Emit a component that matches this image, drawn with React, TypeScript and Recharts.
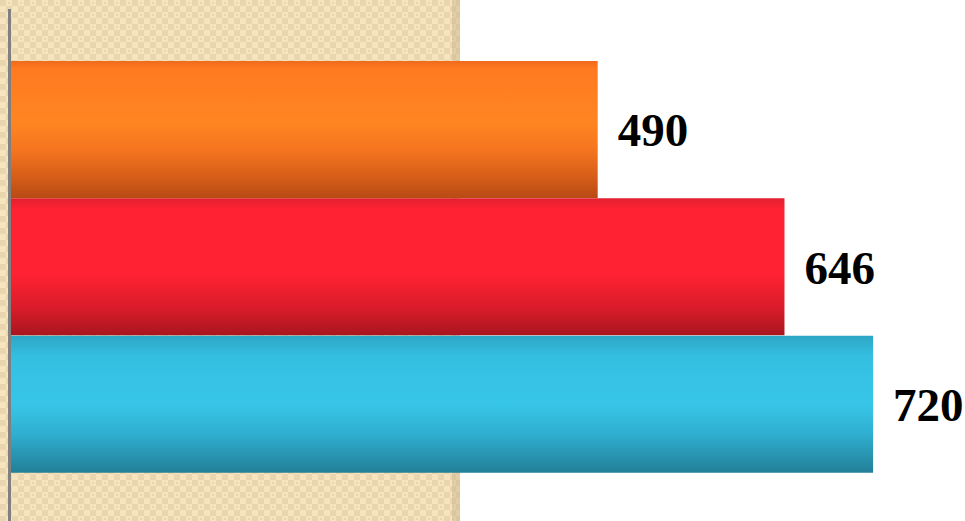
import React from 'react';
import { BarChart, Bar, XAxis, YAxis, Cell, LabelList } from 'recharts';

const categories = ['A', 'B', 'C'];
const values = [490, 646, 720];
const gradientIds = ['gOrange', 'gRed', 'gCyan'];

const data = categories.map((name, i) => ({ name, value: values[i] }));

const W = 965;
const H = 521;

export default function App() {
    return (
        <div style={{ position: 'fixed', left: 0, top: 0, width: W, height: H, background: '#fff' }}>
            {/* patterned backdrop + axis line */}
            <svg width={W} height={H} style={{ position: 'absolute', left: 0, top: 0 }}>
                <defs>
                    <pattern id="beige" width="12" height="12" patternUnits="userSpaceOnUse">
                        <rect width="12" height="12" fill="#F6E4BE" />
                        <rect x="0" y="0" width="6" height="6" fill="#E9D6AF" />
                        <rect x="6" y="6" width="6" height="6" fill="#E9D6AF" />
                        <rect x="8" y="2" width="2" height="2" fill="#E9D6AF" />
                        <rect x="2" y="8" width="2" height="2" fill="#F6E4BE" />
                    </pattern>
                </defs>
                <rect x={0} y={0} width={460} height={H} fill="url(#beige)" />
                <rect x={452} y={0} width={8} height={H} fill="#C8B48C" opacity={0.45} />
                <rect x={8} y={9} width={3} height={H - 9} fill="#808080" />
            </svg>
            <div style={{ position: 'absolute', left: 0, top: 0 }}>
                <BarChart
                    width={W}
                    height={H}
                    data={data}
                    layout="vertical"
                    margin={{ top: 61, right: 56, bottom: 48, left: 11 }}
                    barCategoryGap={0}
                >
                    <defs>
                        <linearGradient id="gOrange" x1="0" y1="0" x2="0" y2="1">
                            <stop offset="0" stopColor="#F06A1C" />
                            <stop offset="0.06" stopColor="#FF7A20" />
                            <stop offset="0.45" stopColor="#FF8522" />
                            <stop offset="0.65" stopColor="#F5751F" />
                            <stop offset="0.82" stopColor="#DA611A" />
                            <stop offset="1" stopColor="#B84A14" />
                        </linearGradient>
                        <linearGradient id="gRed" x1="0" y1="0" x2="0" y2="1">
                            <stop offset="0" stopColor="#E2202E" />
                            <stop offset="0.08" stopColor="#FF2233" />
                            <stop offset="0.55" stopColor="#FF2233" />
                            <stop offset="0.8" stopColor="#DA1C2A" />
                            <stop offset="1" stopColor="#A8161F" />
                        </linearGradient>
                        <linearGradient id="gCyan" x1="0" y1="0" x2="0" y2="1">
                            <stop offset="0" stopColor="#2DA6C4" />
                            <stop offset="0.15" stopColor="#34BFE1" />
                            <stop offset="0.5" stopColor="#37C6E8" />
                            <stop offset="0.72" stopColor="#2FAED0" />
                            <stop offset="1" stopColor="#237F97" />
                        </linearGradient>
                    </defs>
                    <XAxis type="number" domain={[0, 750]} hide />
                    <YAxis type="category" dataKey="name" hide />
                    <Bar dataKey="value" isAnimationActive={false}>
                        {data.map((d, i) => (
                            <Cell key={d.name} fill={`url(#${gradientIds[i]})`} />
                        ))}
                        <LabelList
                            dataKey="value"
                            position="right"
                            offset={20}
                            fill="#000"
                            fontFamily="'Liberation Serif', 'Times New Roman', serif"
                            fontWeight="bold"
                            fontSize={47}
                        />
                    </Bar>
                </BarChart>
            </div>
        </div>
    );
}
